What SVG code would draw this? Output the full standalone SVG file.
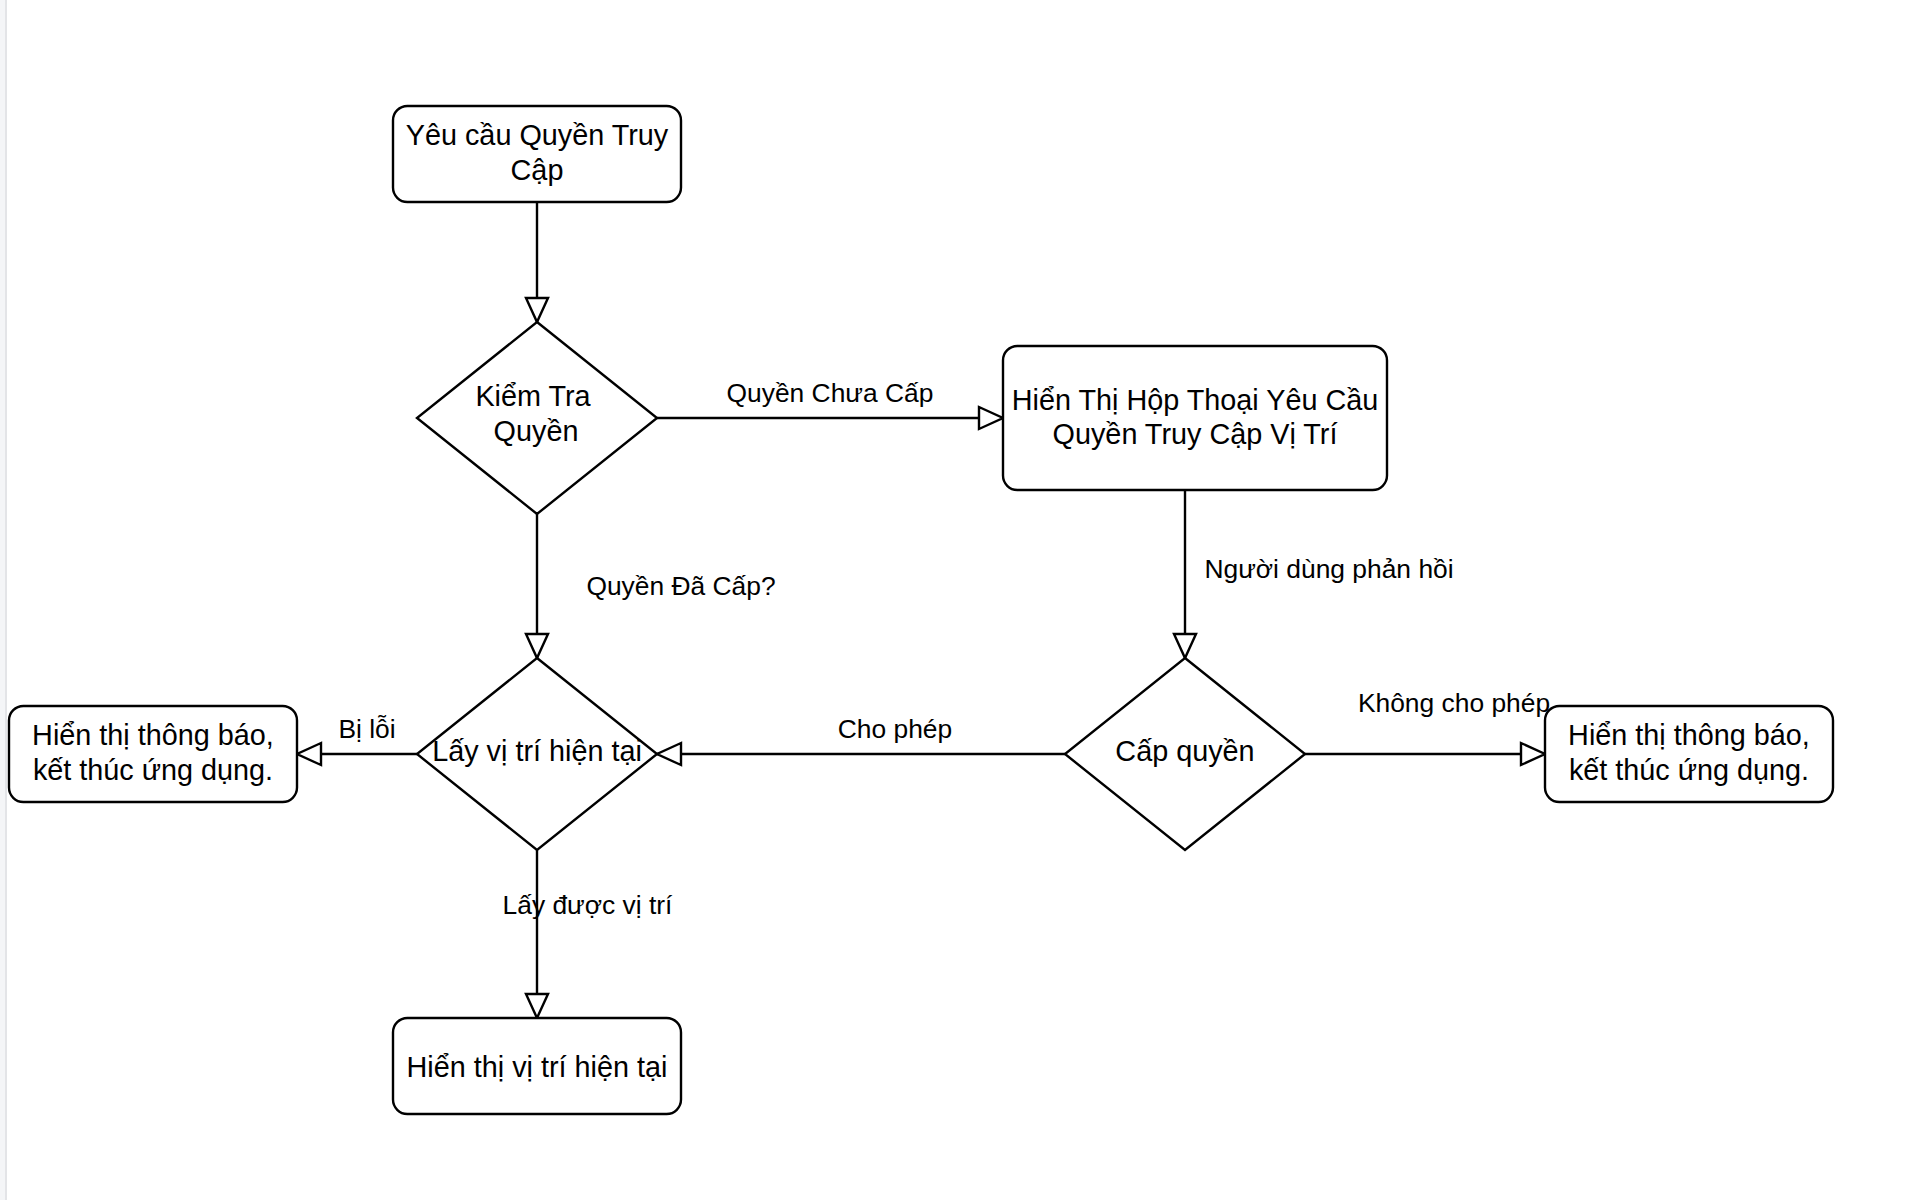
<svg xmlns="http://www.w3.org/2000/svg" width="1908" height="1200" viewBox="0 0 1908 1200">
<style>
.node{fill:#ffffff;stroke:#000000;stroke-width:2.4}
.edge{fill:none;stroke:#000000;stroke-width:2.4}
.t{font-family:"Liberation Sans",Arial,Helvetica,sans-serif;font-size:28.8px;fill:#000000;text-anchor:middle}
.l{font-family:"Liberation Sans",Arial,Helvetica,sans-serif;font-size:26.4px;fill:#000000;text-anchor:middle}
</style>
<defs>
<marker id="arr" markerUnits="userSpaceOnUse" markerWidth="30" markerHeight="30" viewBox="-2 -14 30 28" refX="24" refY="0" orient="auto">
<path d="M0,-11 L24,0 L0,11 Z" fill="#ffffff" stroke="#000000" stroke-width="2.4"/>
</marker>
</defs>
<rect x="0" y="0" width="1908" height="1200" fill="#ffffff"/>
<rect x="0" y="0" width="5" height="1200" fill="#f4f5f7"/>
<rect x="5" y="0" width="2" height="1200" fill="#e3e4e7"/>
<g id="connectors">
<line class="edge" x1="537" y1="202" x2="537" y2="322" marker-end="url(#arr)"/>
<line class="edge" x1="657" y1="418" x2="1003" y2="418" marker-end="url(#arr)"/>
<text class="l" x="830" y="402">Quyền Chưa Cấp</text>
<line class="edge" x1="1185" y1="490" x2="1185" y2="658" marker-end="url(#arr)"/>
<text class="l" x="1329" y="578">Người dùng phản hồi</text>
<line class="edge" x1="537" y1="514" x2="537" y2="658" marker-end="url(#arr)"/>
<text class="l" x="681" y="595">Quyền Đã Cấp?</text>
<line class="edge" x1="1065" y1="754" x2="657" y2="754" marker-end="url(#arr)"/>
<text class="l" x="895" y="738">Cho phép</text>
<line class="edge" x1="1305" y1="754" x2="1545" y2="754" marker-end="url(#arr)"/>
<text class="l" x="1454" y="712">Không cho phép</text>
<line class="edge" x1="417" y1="754" x2="297" y2="754" marker-end="url(#arr)"/>
<text class="l" x="367" y="738">Bị lỗi</text>
<line class="edge" x1="537" y1="850" x2="537" y2="1018" marker-end="url(#arr)"/>
<text class="l" x="587.5" y="914">Lấy được vị trí</text>
</g>
<g id="node-request">
<rect class="node" x="393" y="106" width="288" height="96" rx="14.4" ry="14.4"/>
<text class="t" x="537" y="145">Yêu cầu Quyền Truy</text>
<text class="t" x="537" y="179.5">Cập</text>
</g>
<g id="node-check">
<polygon class="node" points="537,322 657,418 537,514 417,418"/>
<text class="t" x="533" y="406">Kiểm Tra</text>
<text class="t" x="536" y="440.5">Quyền</text>
</g>
<g id="node-dialog">
<rect class="node" x="1003" y="346" width="384" height="144" rx="14.4" ry="14.4"/>
<text class="t" x="1195" y="410">Hiển Thị Hộp Thoại Yêu Cầu</text>
<text class="t" x="1195" y="444">Quyền Truy Cập Vị Trí</text>
</g>
<g id="node-grant">
<polygon class="node" points="1185,658 1305,754 1185,850 1065,754"/>
<text class="t" x="1185" y="761">Cấp quyền</text>
</g>
<g id="node-getloc">
<polygon class="node" points="537,658 657,754 537,850 417,754"/>
<text class="t" x="537" y="761">Lấy vị trí hiện tại</text>
</g>
<g id="node-error-left">
<rect class="node" x="9" y="706" width="288" height="96" rx="14.4" ry="14.4"/>
<text class="t" x="153" y="745">Hiển thị thông báo,</text>
<text class="t" x="153" y="779.5">kết thúc ứng dụng.</text>
</g>
<g id="node-error-right">
<rect class="node" x="1545" y="706" width="288" height="96" rx="14.4" ry="14.4"/>
<text class="t" x="1689" y="745">Hiển thị thông báo,</text>
<text class="t" x="1689" y="779.5">kết thúc ứng dụng.</text>
</g>
<g id="node-show">
<rect class="node" x="393" y="1018" width="288" height="96" rx="14.4" ry="14.4"/>
<text class="t" x="537" y="1076.5">Hiển thị vị trí hiện tại</text>
</g>
</svg>
